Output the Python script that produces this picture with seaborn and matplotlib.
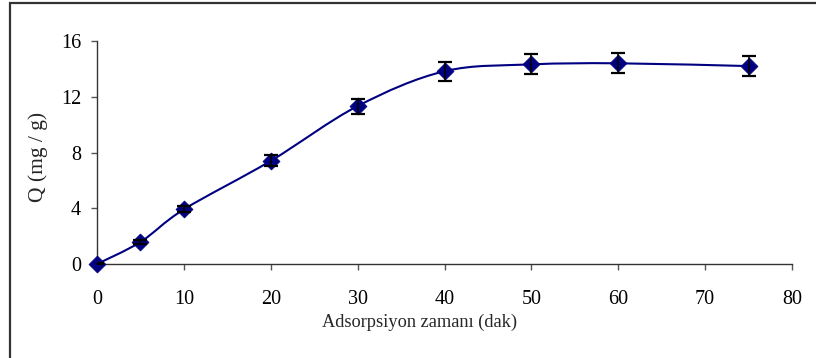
import numpy as np
import pandas as pd
import matplotlib
matplotlib.use("Agg")
import matplotlib.pyplot as plt
import seaborn as sns
from matplotlib.path import Path
from matplotlib.patches import PathPatch, Rectangle

# Data
time_min = [0, 5, 10, 20, 30, 40, 50, 60, 75]
q_mg_g = [0.0, 1.58, 3.92, 7.40, 11.33, 13.83, 14.32, 14.40, 14.20]
q_err = [0.05, 0.15, 0.22, 0.40, 0.54, 0.69, 0.72, 0.73, 0.73]

x_ticks = [0, 10, 20, 30, 40, 50, 60, 70, 80]
y_ticks = [0, 4, 8, 12, 16]
x_label = "Adsorpsiyon zamanı (dak)"
y_label = "Q (mg / g)"

NAVY = "#000080"

sns.set_theme(style="white")
plt.rcParams["font.family"] = ["Liberation Serif", "DejaVu Serif"]

fig = plt.figure(figsize=(8.16, 3.58), dpi=100)
ax = fig.add_axes([97 / 816, 1 - 264 / 358, (792 - 97) / 816, (264 - 41) / 358])

# Smoothed (Excel-style Catmull-Rom Bezier) line through the data points
xs = np.asarray(time_min, float)
ys = np.asarray(q_mg_g, float)
n = len(xs)
verts = [(xs[0], ys[0])]
codes = [Path.MOVETO]
for i in range(n - 1):
    p0 = np.array([xs[max(i - 1, 0)], ys[max(i - 1, 0)]])
    p1 = np.array([xs[i], ys[i]])
    p2 = np.array([xs[i + 1], ys[i + 1]])
    p3 = np.array([xs[min(i + 2, n - 1)], ys[min(i + 2, n - 1)]])
    c1 = p1 + (p2 - p0) / 6.0
    c2 = p2 - (p3 - p1) / 6.0
    verts += [tuple(c1), tuple(c2), tuple(p2)]
    codes += [Path.CURVE4] * 3
ax.add_patch(PathPatch(Path(verts, codes), fill=False, edgecolor=NAVY, lw=1.5,
                       zorder=2, clip_on=False))

df = pd.DataFrame({"t": time_min, "q": q_mg_g})
sns.scatterplot(data=df, x="t", y="q", marker="D", s=75, color=NAVY,
                edgecolor=NAVY, linewidth=0.5, ax=ax, zorder=3, legend=False,
                clip_on=False)
ax.errorbar(time_min, q_mg_g, yerr=q_err, fmt="none", ecolor="black",
            elinewidth=1.2, capsize=4.7, capthick=1.6, zorder=4)

ax.set_xlim(0, 80)
ax.set_ylim(0, 16)
ax.set_xticks(x_ticks)
ax.set_yticks(y_ticks)
ax.tick_params(axis="both", direction="out", length=4.5, width=1, color="#555555",
               labelsize=14.5, labelcolor="black")
ax.tick_params(axis="x", pad=14, bottom=True)
ax.tick_params(axis="y", pad=7, left=True)
for s in ["top", "right"]:
    ax.spines[s].set_visible(False)
for s in ["left", "bottom"]:
    ax.spines[s].set_color("#333333")
    ax.spines[s].set_linewidth(1.0)
ax.set_xlabel(x_label, fontsize=13.2)
ax.set_ylabel(y_label, fontsize=15.5)
ax.xaxis.set_label_coords((420 - 97) / 695, -(314 - 264) / 223)
ax.xaxis.label.set_va("top")
ax.yaxis.set_label_coords((38 - 97) / 695, 0.48)
ax.yaxis.label.set_va("center")
ax.grid(False)

# Outer chart frame (partially cut off on right/bottom)
fig.patches.append(Rectangle((10 / 816, -0.05), 1.0, 1 - 3 / 358 + 0.05,
                             transform=fig.transFigure, fill=False,
                             edgecolor="#333333", lw=1.6))

fig.savefig("out.png", dpi=100)
